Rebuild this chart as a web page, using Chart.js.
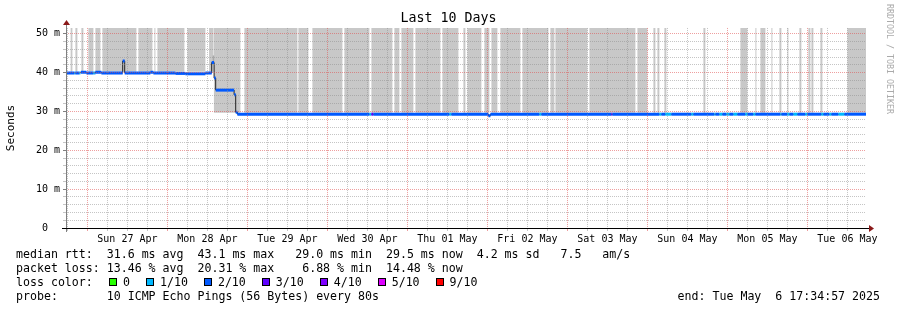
<!DOCTYPE html>
<html>
<head>
<meta charset="utf-8">
<script src="https://cdn.jsdelivr.net/npm/chart.js@4.4.1/dist/chart.umd.min.js"></script>
<style>
  body { margin: 0; background: #fff; }
  #wrap { position: relative; width: 897px; height: 310px; font-family: "DejaVu Sans Mono", monospace; color: #000; }
  #chart { position: absolute; left: 0; top: 0; }
  .leg { position: absolute; left: 16px; font-size: 11.6px; line-height: 14px; white-space: pre; }
  #lossKey { position: absolute; left: 109px; top: 275px; height: 14px; display: flex; align-items: center; font-size: 11.6px; white-space: pre; }
  #lossKey .box { width: 6px; height: 6px; border: 1px solid #000; margin-right: 6px; }
  #lossKey .lab { margin-right: 16px; }
  .side { position: absolute; left: 885px; top: 4px; writing-mode: vertical-rl; font-size: 8.3px; line-height: 10px; color: #aaa; white-space: pre; }
</style>
</head>
<body>
<div id="wrap">
  <canvas id="chart" width="897" height="310"></canvas>
  <div class="side">RRDTOOL / TOBI OETIKER</div>
  <div class="leg" id="rttLine" style="top:247px"></div>
  <div class="leg" id="lossLine" style="top:261px"></div>
  <div class="leg" style="top:275px">loss color:</div>
  <div id="lossKey"></div>
  <div class="leg" id="probeLine" style="top:289px"></div>
  <div class="leg" id="endLine" style="top:289px; left:auto; right:17px"></div>
</div>
<script>
// temps en heures depuis sam. 26 avr. 2025 00:00
const xMin = 17.58, xMax = 257.58;
const yMax = 51.5;
const dayLabels = ['Sun 27 Apr', 'Mon 28 Apr', 'Tue 29 Apr', 'Wed 30 Apr', 'Thu 01 May',
                   'Fri 02 May', 'Sat 03 May', 'Sun 04 May', 'Mon 05 May', 'Tue 06 May'];
const yTickLabels = ['0  ', '10 m', '20 m', '30 m', '40 m', '50 m'];

// rtt médian (ms), valeur tenue jusqu'au point suivant
const medianHour = [17.58, 21.9, 23.7, 26.4, 28.2, 34.59, 35.19, 42.9, 43.8, 50.4, 53.4, 59.4,
                    61.29, 62.01, 62.49, 68.01, 68.49, 69.0, 144.3, 144.9];
const medianMs   = [39.9, 40.1, 39.9, 40.1, 39.9, 43.0, 39.9, 40.1, 39.9, 39.8, 39.7, 39.9,
                    42.6, 38.6, 35.5, 34.3, 29.8, 29.3, 28.9, 29.3];

// pertes (niveau = index dans lossLabels), 2/10 partout ailleurs
const lossLabels = ['0', '1/10', '2/10', '3/10', '4/10', '5/10', '9/10'];
const lossColors = ['#26ff00', '#00b8ff', '#0059ff', '#5e00ff', '#7e00ff', '#dd00ff', '#ff0000'];
const lossFrom  = [20.1, 21.6, 25.8, 108.6, 109.2, 132.6, 159.6, 181.2, 195.6, 197.4, 205.2, 212.1,
                   213.6, 215.7, 217.8, 221.4, 223.8, 231.9, 234.0, 235.8, 239.4, 244.2, 246.6, 249.3];
const lossTo    = [20.4, 22.05, 26.25, 109.2, 109.8, 133.2, 160.2, 181.5, 196.2, 199.2, 205.8, 212.4,
                   214.5, 216.6, 219.0, 222.0, 224.4, 232.2, 234.6, 237.0, 240.0, 244.8, 247.2, 251.1];
const lossLevel = [1, 1, 1, 1, 3, 1, 1, 3, 1, 1, 1, 1, 1, 1, 1, 1, 1, 1, 1, 1, 1, 1, 1, 1];

// fumée (smoke) : bandes grises jusqu'en haut du graphe
const smokeALow = 40.2;
const smokeAFrom = [18.9, 20.4, 22.2, 24.3, 26.4, 28.5, 39.3, 44.1, 45.0, 54.0, 60.5];
const smokeATo   = [19.5, 21.0, 22.8, 25.8, 27.9, 38.7, 43.5, 44.4, 53.1, 59.4, 61.9];
const smokeBLow = 29.7;
const smokeBFrom = [61.9, 71.1, 87.3, 91.5, 101.1, 109.2, 116.1, 118.2, 122.4, 130.5,
                    136.8, 138.0, 143.1, 145.2, 147.9, 154.5, 162.9, 164.4, 174.6, 189.0,
                    193.8, 195.0, 197.1, 208.8, 219.9, 224.4, 225.9, 229.2, 231.6, 234.0,
                    237.6, 240.3, 241.2, 243.9, 252.0];
const smokeBTo   = [69.9, 87.0, 90.3, 100.5, 108.6, 115.5, 117.6, 121.8, 129.9, 135.3,
                    137.4, 142.2, 144.6, 147.0, 153.9, 162.3, 164.1, 174.0, 188.4, 192.0,
                    194.4, 195.6, 197.7, 209.4, 222.0, 224.7, 227.4, 229.5, 232.2, 234.3,
                    238.2, 240.9, 241.8, 244.5, 257.58];
// petite fumée plus foncée au-dessus du pic du 28
const smokeCLow = 42.6, smokeCTop = 44.4;
const smokeCFrom = [61.5];
const smokeCTo   = [62.1];

// Texte de la légende
const rttStats  = ['31.6', '43.1', '29.0', '29.5', '4.2', '7.5'];
const lossStats = ['13.46', '20.31', '6.88', '14.48'];

// ligne en escalier : bas de bande sur [from, to], haut du graphe ailleurs
function smokeSteps(from, to, low, top) {
  const pts = [];
  from.forEach((a, i) => {
    pts.push({x: a, y: low}, {x: to[i], y: top});
  });
  return pts;
}

function medianAt(h) {
  let v = medianMs[0];
  for (let i = 0; i < medianHour.length; i++) if (medianHour[i] <= h) v = medianMs[i];
  return v;
}

function lossAt(h) {
  for (let i = 0; i < lossFrom.length; i++) if (lossFrom[i] <= h && h < lossTo[i]) return lossLevel[i];
  return 2;
}

// ligne noire en escalier
const stepPts = medianHour.map((h, i) => ({x: h, y: medianMs[i]}));
stepPts.push({x: xMax, y: medianMs[medianMs.length - 1]});

// morceaux horizontaux colorés selon la perte
const cuts = [...new Set([...medianHour, ...lossFrom, ...lossTo, xMax])].sort((a, b) => a - b);
const colorPts = [];
for (let i = 0; i < cuts.length - 1; i++) {
  const v = medianAt(cuts[i]);
  colorPts.push({x: cuts[i], y: v}, {x: cuts[i + 1], y: v}, {x: cuts[i + 1], y: null});
}

const majorGrid = 'rgba(224,80,80,0.55)';
const minorGrid = 'rgba(140,140,140,0.5)';
const mono = 'DejaVu Sans Mono';
Chart.defaults.font.family = mono;

const axisArrows = {
  id: 'axisArrows',
  afterDraw(chart) {
    const {ctx, chartArea: a} = chart;
    ctx.save();
    ctx.lineWidth = 1;
    ctx.strokeStyle = '#808080';
    ctx.beginPath(); ctx.moveTo(a.left + 0.5, a.bottom + 4); ctx.lineTo(a.left + 0.5, a.top - 4); ctx.stroke();
    ctx.strokeStyle = '#000';
    ctx.beginPath(); ctx.moveTo(a.left - 4, a.bottom + 0.5); ctx.lineTo(a.right + 4, a.bottom + 0.5); ctx.stroke();
    ctx.fillStyle = '#8b1a1a';
    ctx.beginPath(); ctx.moveTo(a.left - 3, a.top - 3); ctx.lineTo(a.left + 4, a.top - 3); ctx.lineTo(a.left + 0.5, a.top - 8); ctx.closePath(); ctx.fill();
    ctx.beginPath(); ctx.moveTo(a.right + 3, a.bottom - 3); ctx.lineTo(a.right + 3, a.bottom + 4); ctx.lineTo(a.right + 8, a.bottom + 0.5); ctx.closePath(); ctx.fill();
    ctx.restore();
  }
};

const smokeStyle = {type: 'line', stepped: true, borderColor: 'transparent', borderWidth: 0, pointRadius: 0};

new Chart(document.getElementById('chart').getContext('2d'), {
  type: 'line',
  data: {
    datasets: [
      {
        label: 'median', data: colorPts, borderColor: lossColors[2], borderWidth: 3,
        borderCapStyle: 'butt', pointRadius: 0, fill: false, spanGaps: false, order: 1,
        segment: {
          borderColor: c => lossColors[lossAt((c.p0.parsed.x + c.p1.parsed.x) / 2)]
        }
      },
      {
        label: 'median step', data: stepPts, stepped: true, borderColor: '#202020',
        borderWidth: 1, pointRadius: 0, fill: false, order: 2
      },
      Object.assign({label: 'smoke spike', data: smokeSteps(smokeCFrom, smokeCTo, smokeCLow, smokeCTop),
        backgroundColor: '#a8a8a8', fill: {value: smokeCTop}, order: 3}, smokeStyle),
      Object.assign({label: 'smoke A', data: smokeSteps(smokeAFrom, smokeATo, smokeALow, yMax),
        backgroundColor: '#c8c8c8', fill: 'end', order: 4}, smokeStyle),
      Object.assign({label: 'smoke B', data: smokeSteps(smokeBFrom, smokeBTo, smokeBLow, yMax),
        backgroundColor: '#c8c8c8', fill: 'end', order: 4}, smokeStyle)
    ]
  },
  options: {
    responsive: false,
    animation: false,
    layout: {padding: 0},
    plugins: {
      legend: {display: false},
      tooltip: {enabled: false},
      title: {
        display: true, text: 'Last 10 Days', color: '#000',
        font: {family: mono, size: 13.3, weight: 'normal'},
        padding: {top: 11, bottom: 1}
      }
    },
    scales: {
      x: {
        type: 'linear', min: xMin, max: xMax,
        afterBuildTicks: s => {
          s.ticks = [];
          for (let h = Math.ceil(xMin / 6) * 6; h <= xMax; h += 6) s.ticks.push({value: h});
        },
        afterFit: s => { s.height = 82; },
        ticks: {
          autoSkip: false, maxRotation: 0, minRotation: 0, padding: 2, color: '#000',
          font: {family: mono, size: 10},
          callback: v => (v % 24 === 12 ? dayLabels[(v - 36) / 24] : '')
        },
        grid: {
          z: 1, lineWidth: 1, tickLength: 3,
          color: c => (c.tick && c.tick.value % 24 === 0 ? majorGrid : minorGrid),
          tickColor: c => (c.tick && c.tick.value % 24 === 0 ? majorGrid : minorGrid)
        },
        border: {display: false, dash: [1, 1]}
      },
      y: {
        min: 0, max: yMax,
        afterBuildTicks: s => {
          s.ticks = [];
          for (let v = 0; v <= 50; v += 2) s.ticks.push({value: v});
        },
        afterFit: s => { s.width = 66; },
        ticks: {
          autoSkip: false, padding: 3, color: '#000', font: {family: mono, size: 10},
          callback: v => (v % 10 === 0 ? yTickLabels[v / 10] : '')
        },
        grid: {
          z: 1, lineWidth: 1, tickLength: 3,
          color: c => (!c.tick || c.tick.value === 0 ? 'transparent' : c.tick.value % 10 === 0 ? majorGrid : minorGrid),
          tickColor: c => (c.tick && c.tick.value % 10 === 0 ? '#808080' : minorGrid)
        },
        border: {display: false, dash: [1, 1]},
        title: {
          display: true, text: 'Seconds', color: '#000',
          font: {family: mono, size: 11}, padding: {top: 5, bottom: 0}
        }
      },
      yR: {
        position: 'right', display: true,
        afterFit: s => { s.width = 31; },
        grid: {display: false, drawTicks: false},
        ticks: {display: false},
        border: {display: false}
      }
    }
  },
  plugins: [axisArrows]
});

// Légende texte
document.getElementById('rttLine').textContent =
  'median rtt:  ' + rttStats[0] + ' ms avg  ' + rttStats[1] + ' ms max   ' + rttStats[2] +
  ' ms min  ' + rttStats[3] + ' ms now  ' + rttStats[4] + ' ms sd   ' + rttStats[5] + '   am/s';
document.getElementById('lossLine').textContent =
  'packet loss: ' + lossStats[0] + ' % avg  ' + lossStats[1] + ' % max    ' + lossStats[2] +
  ' % min  ' + lossStats[3] + ' % now';
document.getElementById('probeLine').textContent = 'probe:       10 ICMP Echo Pings (56 Bytes) every 80s';
document.getElementById('endLine').textContent = 'end: Tue May  6 17:34:57 2025';

const lossKey = document.getElementById('lossKey');
lossLabels.forEach((lab, i) => {
  const box = document.createElement('span');
  box.className = 'box';
  box.style.background = lossColors[i];
  const txt = document.createElement('span');
  txt.className = 'lab';
  txt.textContent = lab;
  lossKey.appendChild(box);
  lossKey.appendChild(txt);
});
</script>
</body>
</html>
